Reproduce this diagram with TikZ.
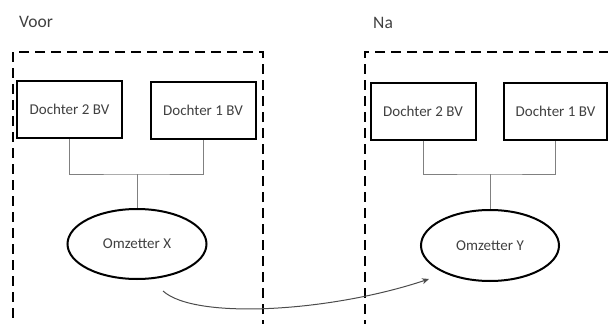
\documentclass[tikz,border=0pt]{standalone}
\usepackage{fontspec}
\setmainfont{Carlito}
\usetikzlibrary{shapes.geometric,arrows.meta}
\definecolor{txt}{HTML}{404040}
\definecolor{conn}{HTML}{808080}
\tikzset{
  boxnode/.style={draw=black, line width=2pt, minimum width=105pt, minimum height=57pt, inner sep=0pt, text=txt, font=\fontsize{15}{17}\selectfont},
  ovalnode/.style={ellipse, draw=black, line width=2pt, minimum width=139pt, minimum height=70pt, inner sep=0pt, text=txt, font=\fontsize{15}{17}\selectfont},
  groupbox/.style={draw=black, line width=2pt, dash pattern=on 10pt off 6pt, anchor=north west, inner sep=0pt},
  link/.style={draw=conn, line width=1pt},
  title/.style={anchor=west, text=txt, font=\fontsize{17.5}{20}\selectfont, inner sep=0pt},
  move/.style={draw=black!70, line width=1pt, -{Stealth[length=7pt,width=6pt]}}
}
\begin{document}
\begin{tikzpicture}[x=1pt,y=-1pt]
\useasboundingbox (0,0) rectangle (608,324);
\node[title] (voor) at (19,22) {Voor};
\node[title] (na) at (373,23) {Na};
\node[groupbox, minimum width=250pt, minimum height=300pt] (grpL) at (12,51) {};
\node[groupbox, minimum width=260pt, minimum height=300pt] (grpR) at (364,51) {};
\node[boxnode] (d2L) at (69.5,109.5) {Dochter 2 BV};
\node[boxnode] (d1L) at (203,110.5) {Dochter 1 BV};
\node[boxnode] (d2R) at (423,111) {Dochter 2 BV};
\node[boxnode, minimum width=103pt] (d1R) at (555.5,111) {Dochter 1 BV};
\node[ovalnode] (omX) at (137,244) {Omzetter X};
\node[ovalnode, minimum width=138pt, minimum height=71pt] (omY) at (490,245.5) {Omzetter Y};
\coordinate (jL) at (137,174);
\coordinate (jR) at (490,174);
\draw[link] (d2L.south) |- (jL) -| (d1L.south);
\draw[link] (jL) -- (omX.north);
\draw[link] (d2R.south) |- (jR) -| (d1R.south);
\draw[link] (jR) -- (omY.north);
\coordinate (mstart) at (163,291);
\coordinate (mend) at (429,279);
\draw[move] (mstart) .. controls (195,320) and (330,312) .. (mend);
\end{tikzpicture}
\end{document}
